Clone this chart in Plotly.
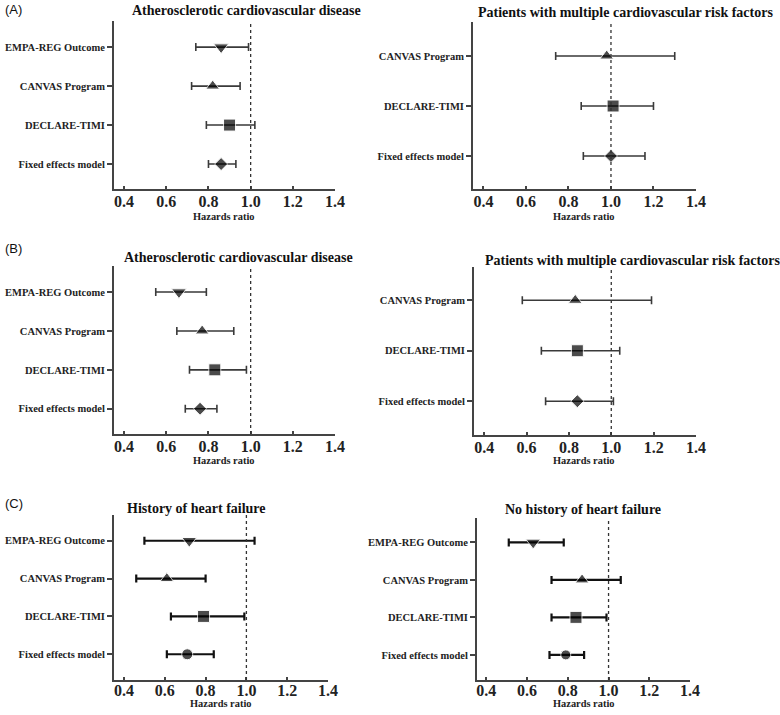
import plotly.graph_objects as go

# ---------------- data ----------------
labels4 = ["EMPA-REG Outcome", "CANVAS Program", "DECLARE-TIMI", "Fixed effects model"]
labels3 = ["CANVAS Program", "DECLARE-TIMI", "Fixed effects model"]
x_ticks = [0.4, 0.6, 0.8, 1.0, 1.2, 1.4]
x_tick_text = ["0.4", "0.6", "0.8", "1.0", "1.2", "1.4"]

a_left_hr = [0.86, 0.82, 0.90, 0.86]
a_left_lo = [0.74, 0.72, 0.79, 0.80]
a_left_hi = [0.99, 0.95, 1.02, 0.93]

a_right_hr = [0.98, 1.01, 1.00]
a_right_lo = [0.74, 0.86, 0.87]
a_right_hi = [1.30, 1.20, 1.16]

b_left_hr = [0.66, 0.77, 0.83, 0.76]
b_left_lo = [0.55, 0.65, 0.71, 0.69]
b_left_hi = [0.79, 0.92, 0.98, 0.84]

b_right_hr = [0.83, 0.84, 0.84]
b_right_lo = [0.58, 0.67, 0.69]
b_right_hi = [1.19, 1.04, 1.01]

c_left_hr = [0.72, 0.61, 0.79, 0.71]
c_left_lo = [0.50, 0.46, 0.63, 0.61]
c_left_hi = [1.04, 0.80, 0.99, 0.84]

c_right_hr = [0.63, 0.87, 0.84, 0.79]
c_right_lo = [0.51, 0.72, 0.72, 0.71]
c_right_hi = [0.78, 1.06, 0.99, 0.88]

titles = {
    "al": "Atherosclerotic cardiovascular disease",
    "ar": "Patients with multiple cardiovascular risk factors",
    "bl": "Atherosclerotic cardiovascular disease",
    "br": "Patients with multiple cardiovascular risk factors",
    "cl": "History of heart failure",
    "cr": "No history of heart failure",
}

sym4_ab = ["triangle-down", "triangle-up", "square", "diamond"]
sym3_ab = ["triangle-up", "square", "diamond"]
sym4_c = ["triangle-down", "triangle-up", "square", "circle"]

W, H = 780, 715
SERIF = "Liberation Serif"

fig = go.Figure()


def px(x):
    return x / W


def py(y):
    return 1 - y / H


panels = [
    dict(key="al", labels=labels4, hr=a_left_hr, lo=a_left_lo, hi=a_left_hi, sym=sym4_ab,
         xd=(114, 335), yd=(21, 189), x0=0.352, yr=(3.64, -0.67), tpos=(246, 11), hpos=(223, 216),
         col="#3a3a3a", lw=1.6, msz=[13, 12, 12, 10], so=-3),
    dict(key="ar", labels=labels3, hr=a_right_hr, lo=a_right_lo, hi=a_right_hi, sym=sym3_ab,
         xd=(473, 696), yd=(22, 189), x0=0.351, yr=(2.66, -0.68), tpos=(625, 12), hpos=(583, 216),
         col="#3a3a3a", lw=1.6, msz=[12, 12, 10], so=-3),
    dict(key="bl", labels=labels4, hr=b_left_hr, lo=b_left_lo, hi=b_left_hi, sym=sym4_ab,
         xd=(114, 335), yd=(266, 434), x0=0.352, yr=(3.65, -0.67), tpos=(238, 258), hpos=(223, 461),
         col="#3a3a3a", lw=1.6, msz=[13, 12, 12, 10], so=-3),
    dict(key="br", labels=labels3, hr=b_right_hr, lo=b_right_lo, hi=b_right_hi, sym=sym3_ab,
         xd=(474, 696), yd=(267, 435), x0=0.352, yr=(2.67, -0.66), tpos=(632, 260), hpos=(583, 461),
         col="#3a3a3a", lw=1.6, msz=[12, 12, 10], so=-3),
    dict(key="cl", labels=labels4, hr=c_left_hr, lo=c_left_lo, hi=c_left_hi, sym=sym4_c,
         xd=(114, 328), yd=(515, 680), x0=0.351, yr=(3.68, -0.68), tpos=(196, 508), hpos=(220, 703),
         col="#111111", lw=2.2, msz=[13, 12, 12, 11], so=-5),
    dict(key="cr", labels=labels4, hr=c_right_hr, lo=c_right_lo, hi=c_right_hi, sym=sym4_c,
         xd=(477, 690), yd=(518, 680), x0=0.354, yr=(3.67, -0.65), tpos=(583, 509), hpos=(583, 703),
         col="#111111", lw=2.2, msz=[13, 12, 12, 10], so=-5),
]

for i, p in enumerate(panels, start=1):
    xa = "x" if i == 1 else f"x{i}"
    ya = "y" if i == 1 else f"y{i}"
    n = len(p["labels"])
    ypos = list(range(n))
    fig.add_trace(go.Scatter(
        x=p["hr"], y=ypos, mode="markers", xaxis=xa, yaxis=ya, showlegend=False,
        marker=dict(symbol=p["sym"], size=p["msz"], color="#000000"),
        error_x=dict(type="data", symmetric=False,
                     array=[h - m for h, m in zip(p["hi"], p["hr"])],
                     arrayminus=[m - l for m, l in zip(p["hr"], p["lo"])],
                     color=p["col"], thickness=p["lw"], width=4),
    ))
    xkey = "xaxis" if i == 1 else f"xaxis{i}"
    ykey = "yaxis" if i == 1 else f"yaxis{i}"
    fig.update_layout({
        xkey: dict(domain=[px(p["xd"][0]), px(p["xd"][1])], range=[p["x0"], 1.4], anchor=ya,
                   tickvals=x_ticks, ticktext=x_tick_text, showgrid=False, zeroline=False,
                   showline=True, linecolor="#444444", linewidth=2, automargin=False,
                   ticks="inside", ticklen=3, tickcolor="#444444", tickwidth=1.5,
                   ticklabelstandoff=p["so"],
                   tickfont=dict(family=SERIF, size=16, color="#222222", weight="bold"),
                   fixedrange=True),
        ykey: dict(domain=[py(p["yd"][1]), py(p["yd"][0])], range=list(p["yr"]), anchor=xa,
                   tickvals=ypos, ticktext=p["labels"], showgrid=False, zeroline=False,
                   showline=True, linecolor="#444444", linewidth=2, automargin=False,
                   ticks="outside", ticklen=5, tickcolor="#444444", tickwidth=1.5,
                   tickfont=dict(family=SERIF, size=10.5, color="#222222", weight="bold"),
                   fixedrange=True),
    })
    fig.add_shape(type="line", xref=xa, yref=f"{ya} domain", x0=1.0, x1=1.0, y0=0, y1=1,
                  line=dict(color="#333333", width=1.3, dash="dot"))
    fig.add_annotation(text=titles[p["key"]], xref="paper", yref="paper",
                       x=px(p["tpos"][0]), y=py(p["tpos"][1]), showarrow=False,
                       xanchor="center", yanchor="middle",
                       font=dict(family=SERIF, size=14, color="#111111", weight="bold"))
    fig.add_annotation(text="Hazards ratio", xref="paper", yref="paper",
                       x=px(p["hpos"][0]), y=py(p["hpos"][1]), showarrow=False,
                       xanchor="center", yanchor="middle",
                       font=dict(family=SERIF, size=10.4, color="#222222", weight="bold"))

for lab, yy in [("(A)", 10), ("(B)", 249), ("(C)", 503)]:
    fig.add_annotation(text=lab, xref="paper", yref="paper", x=px(3), y=py(yy),
                       showarrow=False, xanchor="left", yanchor="middle",
                       font=dict(family="Liberation Sans", size=13, color="#111111"))

fig.update_layout(template="none", width=W, height=H, margin=dict(l=0, r=0, t=0, b=0),
                  paper_bgcolor="white", plot_bgcolor="white")

# remove the browser's default page margin so the figure starts at the window's corner
fig.write_html("out.html", config={"displayModeBar": False},
               post_script="document.body.style.margin='0px';document.body.style.overflow='hidden';")
